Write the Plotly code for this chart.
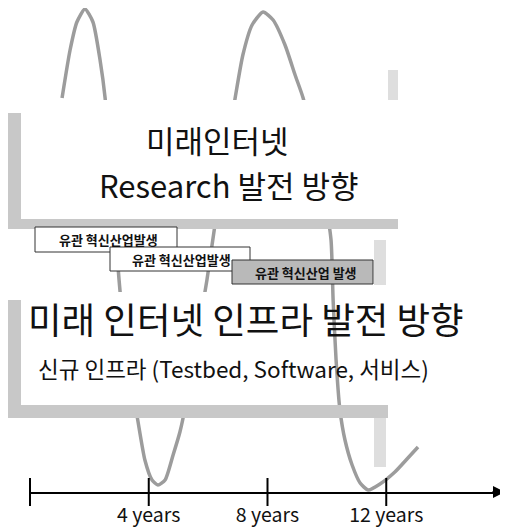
import plotly.graph_objects as go

# ---------------- data ----------------
# wave (cycle) curve, x in years, y as level above the timeline
curve_years = [1.08, 1.35, 1.58, 1.85, 2.12, 2.36, 2.53, 2.69, 2.86, 3.00, 3.20, 3.44,
               3.60, 3.87, 4.11, 4.31, 4.55, 4.82, 5.05, 5.22, 5.46, 5.73, 5.96, 6.23,
               6.57, 6.91, 7.17, 7.48, 7.85, 8.19, 8.59, 8.93, 9.20, 9.60, 9.94, 10.14,
               10.21, 10.31, 10.44, 10.61, 10.85, 11.12, 11.39, 11.79, 12.29, 12.73, 13.07]
curve_levels = [394, 442, 470, 483, 470, 432, 394, 332, 267, 212, 152, 102,
                77, 32, 12, 7, 12, 37, 60, 84, 132, 172, 212, 267,
                332, 394, 437, 467, 480, 472, 447, 417, 394, 342, 292, 252,
                192, 132, 82, 52, 27, 9, 2, 8, 20, 34, 45]

tick_years = [0, 4, 8, 12, 16]
label_years = [4, 8, 12]
tick_labels = ["4 years", "8 years", "12 years"]

title_research = ["미래인터넷", "Research 발전 방향"]
title_infra = "미래 인터넷 인프라 발전 방향"
subtitle_infra = "신규 인프라 (Testbed, Software, 서비스)"
industry_labels = ["유관 혁신산업발생", "유관 혁신산업발생", "유관 혁신산업 발생"]

# ---------------- layout helpers ----------------
# the page body has an 8px margin, so the figure is 8px smaller and every
# reference pixel position is shifted by that offset
OFF = 8
W, H = 508 - OFF, 530 - OFF
ML, MR, MT, MB = 30 - OFF, 3, 0, 38
X_MAX = 16
PLOT_W = W - ML - MR
PLOT_H = H - MT - MB
Y_MAX = PLOT_H


def pxp(x):
    return (x - OFF - ML) / PLOT_W


def pyp(y):
    return (H - MB - (y - OFF)) / PLOT_H


FONT = "Noto Sans CJK KR, Malgun Gothic, sans-serif"
GRAY_CURVE = "#9c9c9c"
GRAY_BAND = "#c8c8c8"
GRAY_LIGHT = "#dedede"

fig = go.Figure()

fig.add_trace(go.Scatter(
    x=curve_years, y=curve_levels, mode="lines",
    line=dict(color=GRAY_CURVE, width=3.5, shape="spline", smoothing=0.6),
    hoverinfo="skip", showlegend=False, cliponaxis=False,
))

fig.add_trace(go.Scatter(
    x=tick_years, y=[0] * len(tick_years), mode="markers",
    marker=dict(symbol="line-ns", size=20, line=dict(color="black", width=2)),
    hoverinfo="skip", showlegend=False, cliponaxis=False,
))

shapes = []


def rect(x0, y0, x1, y1, fill, line_color=None, line_width=0):
    shapes.append(dict(
        type="rect", xref="paper", yref="paper",
        x0=pxp(x0), x1=pxp(x1), y0=pyp(y1), y1=pyp(y0),
        fillcolor=fill,
        line=dict(color=line_color or fill, width=line_width),
        layer="above",
    ))


# white bodies of the two text boxes (hide the wave behind them)
rect(20, 100, 398, 219, "white")
rect(20, 292, 322, 405, "white")

# gray stippled frames
rect(8, 113, 21, 229, GRAY_BAND)
rect(8, 219, 398, 229, GRAY_BAND)
rect(8, 300, 21, 418, GRAY_BAND)
rect(8, 405, 388, 418, GRAY_BAND)
rect(374, 240, 386, 285, GRAY_LIGHT)
rect(374, 418, 386, 467, GRAY_LIGHT)
rect(388, 70, 398, 100, GRAY_LIGHT)

# small industry boxes
rect(35, 227, 177, 252, "white", "#333333", 1)
rect(110, 247, 250, 271, "white", "#333333", 1)
rect(232, 260, 373, 284, "#b9b9b9", "#333333", 1)

annotations = []


def text(x, y, s, size, anchor="center", bold=False, color="#111111"):
    annotations.append(dict(
        x=pxp(x), y=pyp(y), xref="paper", yref="paper",
        text=f"<b>{s}</b>" if bold else s,
        showarrow=False, xanchor=anchor, yanchor="middle", borderpad=0,
        align="center",
        font=dict(family=FONT, size=size, color=color),
    ))


text(217, 139, title_research[0], 31)
text(228, 185, title_research[1], 31)
text(27, 318, title_infra, 36.5, anchor="left")
text(37, 368, subtitle_infra, 22.5, anchor="left")

text(108, 240, industry_labels[0], 13, bold=True)
text(181, 259, industry_labels[1], 13, bold=True)
text(306, 272, industry_labels[2], 13, bold=True)

# arrow head at the end of the timeline
annotations.append(dict(
    x=X_MAX, y=0, xref="x", yref="y", ax=-14, ay=0, text="",
    showarrow=True, arrowhead=2, arrowsize=1.2, arrowwidth=2, arrowcolor="black",
))

fig.update_layout(
    width=W, height=H,
    margin=dict(l=ML, r=MR, t=MT, b=MB),
    paper_bgcolor="white", plot_bgcolor="white",
    shapes=shapes, annotations=annotations,
    showlegend=False,
    xaxis=dict(
        range=[0, X_MAX], showgrid=False, zeroline=False,
        showline=True, linecolor="black", linewidth=2,
        tickvals=label_years, ticktext=tick_labels, ticks="",
        tickfont=dict(family=FONT, size=19.5, color="#111111"),
        ticklabelstandoff=5, fixedrange=True,
    ),
    yaxis=dict(range=[0, Y_MAX], visible=False, fixedrange=True),
)

fig.write_html("out.html")
